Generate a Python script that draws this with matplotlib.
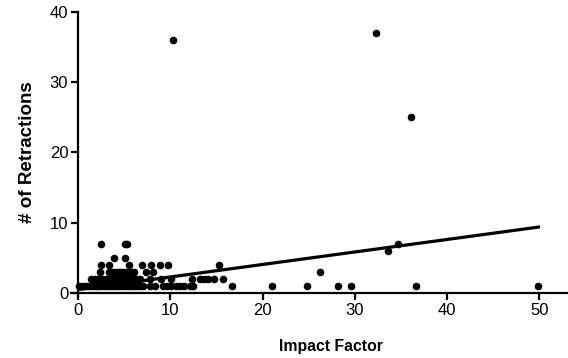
import matplotlib
matplotlib.use("Agg")
import matplotlib.pyplot as plt
import numpy as np

# Impact factor values grouped by number of retractions
if_r1 = [0.1, 0.4, 0.7, 1.0, 1.3, 1.6, 1.9, 2.2, 2.5, 2.8, 3.1, 3.4, 3.7, 4.0, 4.3,
         4.6, 4.9, 5.2, 5.5, 5.8, 6.1, 6.4, 6.7, 7.0, 7.8, 8.3, 9.2, 9.6, 10.1, 10.6,
         11.0, 11.5, 12.1, 12.5, 16.7, 21.0, 24.8, 28.2, 29.6, 36.6, 49.9]
if_r2 = [1.4, 1.8, 2.2, 2.6, 3.0, 3.3, 3.6, 3.9, 4.2, 4.5, 4.8, 5.1, 5.4, 5.7, 6.0,
         6.3, 6.7, 7.8, 9.0, 10.1, 12.3, 13.2, 13.6, 14.1, 14.7, 15.7]
if_r3 = [2.4, 3.4, 3.7, 4.0, 4.3, 4.6, 4.9, 5.2, 5.5, 5.8, 6.1, 7.4, 8.1, 26.2]
if_r4 = [2.5, 3.4, 5.5, 6.9, 7.9, 8.9, 9.8, 15.3]
if_r5 = [3.9, 5.1]
if_r6 = [33.6]
if_r7 = [2.5, 5.1, 5.3, 34.7]
if_r25 = [36.1]
if_r36 = [10.3]
if_r37 = [32.3]

groups = [(if_r1, 1), (if_r2, 2), (if_r3, 3), (if_r4, 4), (if_r5, 5), (if_r6, 6),
          (if_r7, 7), (if_r25, 25), (if_r36, 36), (if_r37, 37)]

# Linear regression line
fit_intercept = 0.5
fit_slope = 0.178

x_ticks = [0, 10, 20, 30, 40, 50]
y_ticks = [0, 10, 20, 30, 40]

impact = []
retr = []
for xs, r in groups:
    impact += xs
    retr += [r] * len(xs)
impact = np.array(impact)
retr = np.array(retr)

fig = plt.figure(figsize=(5.68, 3.58), dpi=100)
ax = fig.add_axes([71 / 568, 61 / 358, 497 / 568, 285 / 358])

ax.scatter(impact, retr, s=30, color="black", linewidths=0, zorder=3)
lx = np.array([impact.min(), impact.max()])
ax.plot(lx, fit_intercept + fit_slope * lx, color="black", lw=2.3, zorder=4)

ax.set_xlim(-0.76, 53.1)
ax.set_ylim(-0.57, 40)
ax.spines["left"].set_position(("data", 0))
ax.spines["bottom"].set_position(("data", 0))
ax.spines["right"].set_visible(False)
ax.spines["top"].set_visible(False)
for s in ("left", "bottom"):
    ax.spines[s].set_linewidth(1.6)
ax.set_xticks(x_ticks)
ax.set_yticks(y_ticks)
font = ["Liberation Sans"]
ax.tick_params(direction="out", length=5, width=1.6, labelsize=12, pad=2)
for lab in ax.get_xticklabels() + ax.get_yticklabels():
    lab.set_family(font)

fig.text(331 / 568, 1 - 347 / 358, "Impact Factor", ha="center", va="center",
         fontsize=11.3, fontweight="bold", family=font)
fig.text(28 / 568, 1 - 152 / 358, "# of Retractions", ha="center", va="center",
         rotation=90, fontsize=13.5, fontweight="bold", family=font)

fig.savefig("out.png", dpi=100)
